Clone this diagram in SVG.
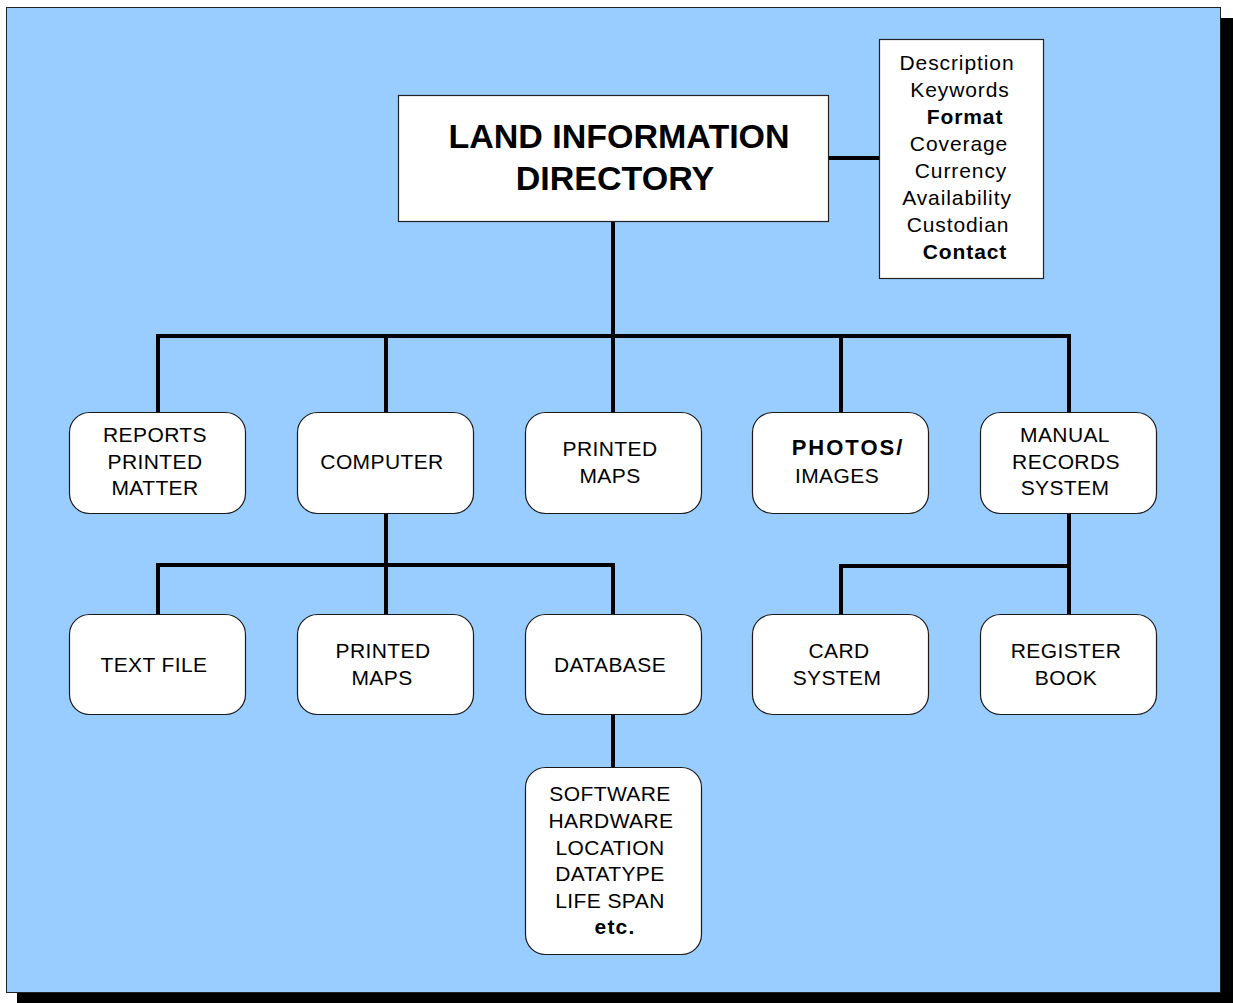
<svg xmlns="http://www.w3.org/2000/svg" width="1233" height="1003" viewBox="0 0 1233 1003">
  <style>
    .node { fill: #ffffff; stroke: #1a1a1a; stroke-width: 1.2; }
    .t { font-family: "Liberation Sans", Arial, sans-serif; font-size: 21px; fill: #000; text-anchor: middle; letter-spacing: 0.4px; }
    .b { font-weight: bold; }
    .title { font-family: "Liberation Sans", Arial, sans-serif; font-size: 34px; font-weight: bold; fill: #000; text-anchor: middle; }
    .attr { font-family: "Liberation Sans", Arial, sans-serif; font-size: 21px; fill: #000; text-anchor: middle; letter-spacing: 0.9px; }
    .link { fill: none; stroke: #000; stroke-width: 4; stroke-linecap: square; stroke-linejoin: miter; }
  </style>

  <!-- backdrop panel with drop shadow -->
  <rect x="17" y="18" width="1216" height="985" fill="#000"/>
  <rect x="6.5" y="7.5" width="1214" height="985" fill="#99ccff" stroke="#222" stroke-width="1"/>

  <!-- connectors -->
  <g id="connectors">
    <path class="link" d="M829 158 H879"/>
    <path class="link" d="M613 222 V336"/>
    <path class="link" d="M158 412 V336 H1069 V412"/>
    <path class="link" d="M386 336 V412"/>
    <path class="link" d="M613 336 V412"/>
    <path class="link" d="M841 336 V412"/>
    <path class="link" d="M386 514 V614"/>
    <path class="link" d="M158 614 V565 H613 V614"/>
    <path class="link" d="M1069 514 V614"/>
    <path class="link" d="M841 614 V566 H1069"/>
    <path class="link" d="M613 715 V767"/>
  </g>

  <!-- root -->
  <g id="land-information-directory">
    <rect x="398.5" y="95.5" width="430" height="126" fill="#fff" stroke="#222" stroke-width="1.2"/>
    <text class="title" x="619" y="148">LAND INFORMATION</text>
    <text class="title" x="615" y="190">DIRECTORY</text>
  </g>

  <!-- metadata list -->
  <g id="metadata-fields">
    <rect x="879.5" y="39.5" width="164" height="239" fill="#fff" stroke="#222" stroke-width="1.2"/>
    <text class="attr" x="957" y="70">Description</text>
    <text class="attr" x="960" y="97">Keywords</text>
    <text class="attr b" x="965" y="124">Format</text>
    <text class="attr" x="959" y="151">Coverage</text>
    <text class="attr" x="961" y="178">Currency</text>
    <text class="attr" x="957" y="205">Availability</text>
    <text class="attr" x="958" y="232">Custodian</text>
    <text class="attr b" x="965" y="259">Contact</text>
  </g>

  <!-- first level -->
  <g id="reports-printed-matter">
    <rect class="node" x="69.5" y="412.5" width="176" height="101" rx="20"/>
    <text class="t" x="155" y="442">REPORTS</text>
    <text class="t" x="155" y="469">PRINTED</text>
    <text class="t" x="155" y="495">MATTER</text>
  </g>
  <g id="computer">
    <rect class="node" x="297.5" y="412.5" width="176" height="101" rx="20"/>
    <text class="t" x="382" y="469">COMPUTER</text>
  </g>
  <g id="printed-maps">
    <rect class="node" x="525.5" y="412.5" width="176" height="101" rx="20"/>
    <text class="t" x="610" y="456">PRINTED</text>
    <text class="t" x="610" y="483">MAPS</text>
  </g>
  <g id="photos-images">
    <rect class="node" x="752.5" y="412.5" width="176" height="101" rx="20"/>
    <text class="t b" x="848" y="455" style="font-size:22px;letter-spacing:2px">PHOTOS/</text>
    <text class="t" x="837" y="483">IMAGES</text>
  </g>
  <g id="manual-records-system">
    <rect class="node" x="980.5" y="412.5" width="176" height="101" rx="20"/>
    <text class="t" x="1065" y="442">MANUAL</text>
    <text class="t" x="1066" y="469">RECORDS</text>
    <text class="t" x="1065" y="495">SYSTEM</text>
  </g>

  <!-- second level -->
  <g id="text-file">
    <rect class="node" x="69.5" y="614.5" width="176" height="100" rx="20"/>
    <text class="t" x="154" y="672">TEXT FILE</text>
  </g>
  <g id="computer-printed-maps">
    <rect class="node" x="297.5" y="614.5" width="176" height="100" rx="20"/>
    <text class="t" x="383" y="658">PRINTED</text>
    <text class="t" x="382" y="685">MAPS</text>
  </g>
  <g id="database">
    <rect class="node" x="525.5" y="614.5" width="176" height="100" rx="20"/>
    <text class="t" x="610" y="672">DATABASE</text>
  </g>
  <g id="card-system">
    <rect class="node" x="752.5" y="614.5" width="176" height="100" rx="20"/>
    <text class="t" x="839" y="658">CARD</text>
    <text class="t" x="837" y="685">SYSTEM</text>
  </g>
  <g id="register-book">
    <rect class="node" x="980.5" y="614.5" width="176" height="100" rx="20"/>
    <text class="t" x="1066" y="658">REGISTER</text>
    <text class="t" x="1066" y="685">BOOK</text>
  </g>

  <!-- database details -->
  <g id="database-details">
    <rect class="node" x="525.5" y="767.5" width="176" height="187" rx="20"/>
    <text class="t" x="610" y="801">SOFTWARE</text>
    <text class="t" x="611" y="828">HARDWARE</text>
    <text class="t" x="610" y="855">LOCATION</text>
    <text class="t" x="610" y="881">DATATYPE</text>
    <text class="t" x="610" y="908">LIFE SPAN</text>
    <text class="t b" x="615" y="934" style="letter-spacing:1.2px">etc.</text>
  </g>
</svg>
